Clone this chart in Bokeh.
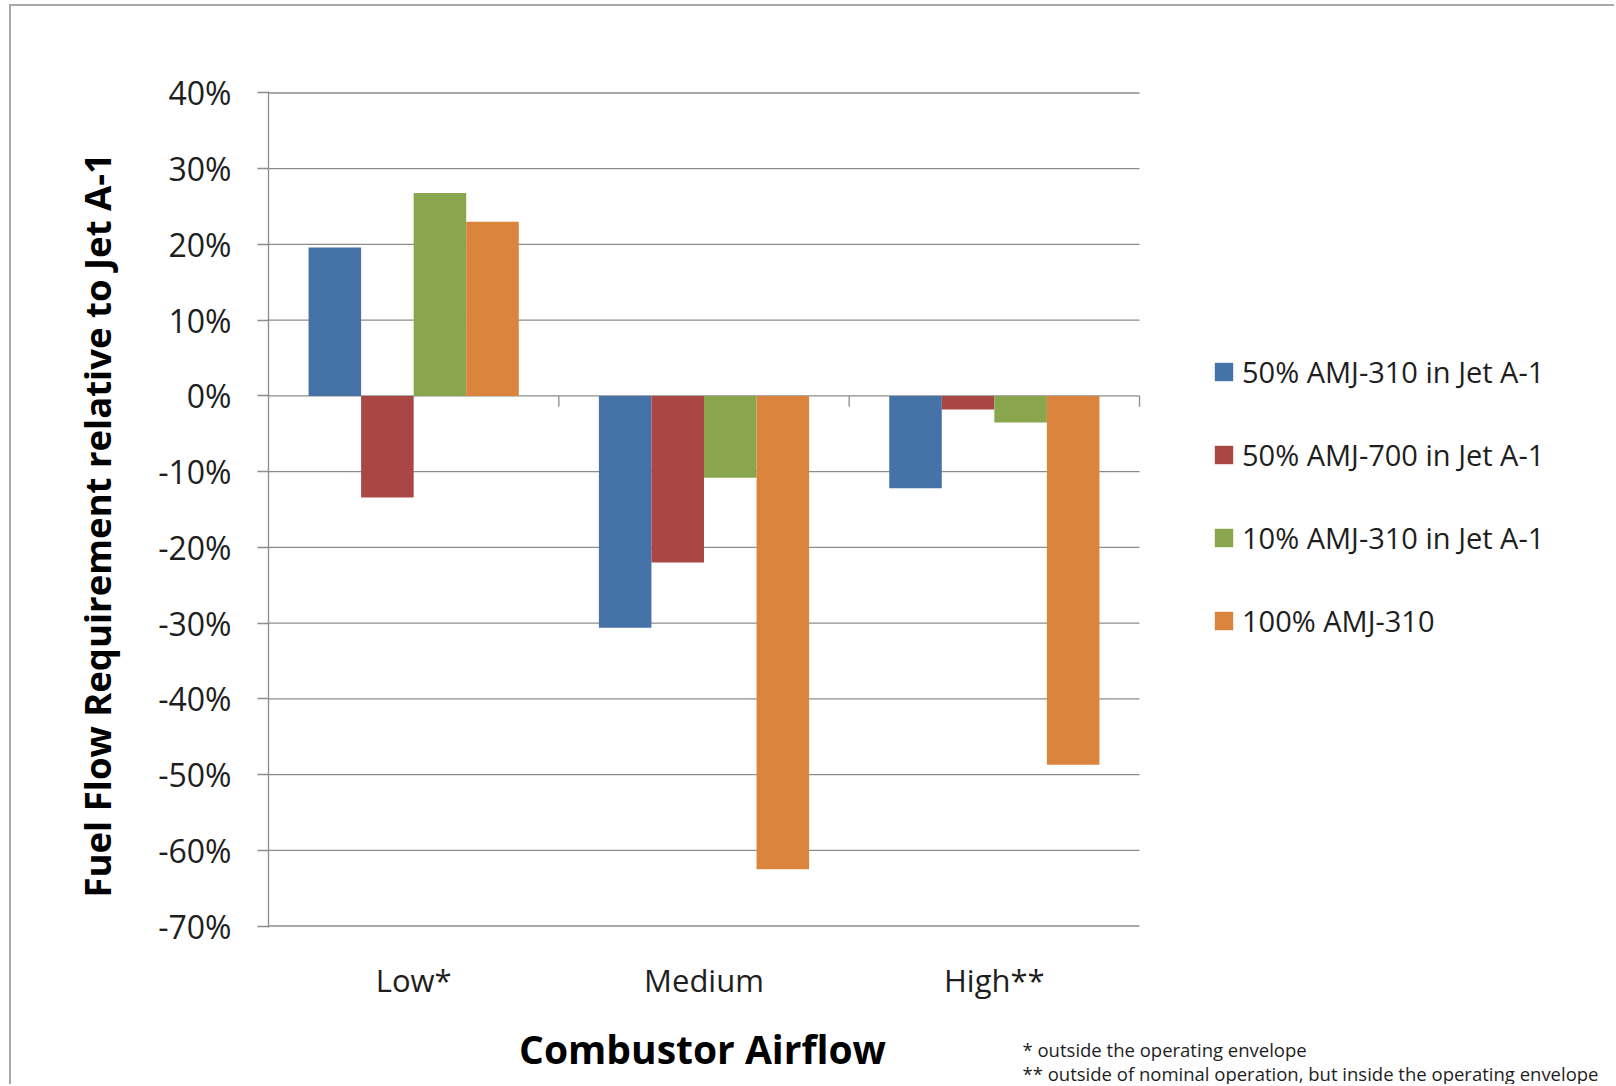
from bokeh.embed import file_html
from bokeh.models import (ColumnDataSource, FixedTicker, Label, Legend, LegendItem,
                          NumeralTickFormatter, Range1d, Title)
from bokeh.plotting import figure
from bokeh.resources import INLINE
from bokeh.transform import dodge

# ---- data -------------------------------------------------------------
categories = ["Low*", "Medium", "High**"]
series_labels = [
    "50% AMJ-310 in Jet A-1",
    "50% AMJ-700 in Jet A-1",
    "10% AMJ-310 in Jet A-1",
    "100% AMJ-310",
]
blend_50_amj310 = [0.196, -0.306, -0.122]
blend_50_amj700 = [-0.134, -0.220, -0.018]
blend_10_amj310 = [0.268, -0.108, -0.035]
neat_amj310 = [0.230, -0.625, -0.487]
y_tick_values = [-0.7, -0.6, -0.5, -0.4, -0.3, -0.2, -0.1, 0.0, 0.1, 0.2, 0.3, 0.4]
x_title = "Combustor Airflow"
y_title = "Fuel Flow Requirement relative to Jet A-1"
footnotes = [
    "* outside the operating envelope",
    "** outside of nominal operation, but inside the operating envelope",
]

# ---- styling ----------------------------------------------------------
FONT = "Open Sans"
TEXT = "#1e1e1e"
GRID = "#8c8c8c"
COLORS = ["#4572A7", "#AA4643", "#89A54E", "#DB843D"]

W, H = 1605, 1080            # canvas size (page minus outer margin/border)
LEFT, RIGHT, TOP, BOTTOM = 257, 1128, 85, 921   # edges of the category area on the canvas
BAR_W = 0.181
OFFSETS = [-1.5 * BAR_W, -0.5 * BAR_W, 0.5 * BAR_W, 1.5 * BAR_W]
TICK_PX = 11

n_cat = len(categories)
x_centers = [i + 0.5 for i in range(n_cat)]
x_bounds = [i + 1.0 for i in range(n_cat)]
# the frame runs to the right edge so the legend can sit inside it
x_end = n_cat * (W - LEFT) / (RIGHT - LEFT)

y_lo, y_hi = y_tick_values[0], y_tick_values[-1]
per_px = (y_hi - y_lo) / (BOTTOM - TOP)
pad = 1.5 * per_px           # keeps the end gridlines inside the frame

src = ColumnDataSource(dict(
    xc=x_centers,
    s0=blend_50_amj310,
    s1=blend_50_amj700,
    s2=blend_10_amj310,
    s3=neat_amj310,
))

p = figure(
    x_range=Range1d(0, x_end),
    y_range=Range1d(y_lo - pad, y_hi + pad),
    width=W, height=H,
    output_backend="svg",
    toolbar_location=None,
    min_border_left=LEFT,
    min_border_right=0,
    min_border_top=TOP,
    min_border_bottom=H - BOTTOM,
)
p.title.visible = False
p.outline_line_color = None
p.background_fill_color = "white"
p.border_fill_color = "white"
p.styles = {
    "margin-left": "9px",
    "margin-top": "4px",
    "border-left": "2px solid #a9a9a9",
    "border-top": "2px solid #a9a9a9",
}
p.grid.grid_line_color = None

# y axis
p.yaxis.ticker = FixedTicker(ticks=y_tick_values)
p.yaxis.formatter = NumeralTickFormatter(format="0%")
p.yaxis.major_label_text_font = FONT
p.yaxis.major_label_text_font_size = "32px"
p.yaxis.major_label_text_color = TEXT
p.yaxis.major_label_standoff = 26
p.yaxis.major_tick_out = TICK_PX
p.yaxis.major_tick_in = 0
p.yaxis.minor_tick_line_color = None
p.yaxis.axis_line_color = GRID
p.yaxis.axis_line_width = 1.3
p.yaxis.major_tick_line_color = GRID
p.yaxis.major_tick_line_width = 1.3

# x axis: category names at the bottom, no line or ticks there
p.xaxis.ticker = FixedTicker(ticks=x_centers)
p.xaxis.major_label_overrides = {c: name for c, name in zip(x_centers, categories)}
p.xaxis.axis_line_color = None
p.xaxis.major_tick_line_color = None
p.xaxis.minor_tick_line_color = None
p.xaxis.major_label_text_font = FONT
p.xaxis.major_label_text_font_size = "31px"
p.xaxis.major_label_text_color = TEXT
p.xaxis.major_label_standoff = 25

# rotated y title, left of the tick labels
p.add_layout(Title(text=y_title, align="left", offset=30, standoff=68,
                   text_font=FONT, text_font_size="36.5px", text_font_style="bold",
                   text_color="#000000"), "left")

# horizontal gridlines over the category area (the 0% line doubles as the axis)
grid_src = ColumnDataSource(dict(y=y_tick_values, x0=[0.0] * len(y_tick_values),
                                 x1=[float(n_cat)] * len(y_tick_values)))
p.segment(x0="x0", x1="x1", y0="y", y1="y", source=grid_src,
          line_color=GRID, line_width=1.3)

# category boundary ticks below the 0% line
bounds = ColumnDataSource(dict(x=x_bounds, y0=[0.0] * n_cat, y1=[-TICK_PX * per_px] * n_cat))
p.segment(x0="x", x1="x", y0="y0", y1="y1", source=bounds, line_color=GRID, line_width=1.3)

# bars
items = []
for i, (label, color, off) in enumerate(zip(series_labels, COLORS, OFFSETS)):
    r = p.vbar(x=dodge("xc", off), top=f"s{i}", bottom=0,
               width=BAR_W, source=src, fill_color=color, line_color=None)
    items.append(LegendItem(label=label, renderers=[r]))

legend = Legend(
    items=items,
    location=(944, 287),
    orientation="vertical",
    glyph_width=23, glyph_height=23,
    label_height=40,
    label_standoff=7,
    spacing=43,
    padding=10,
    margin=0,
    border_line_color=None,
    background_fill_alpha=0,
    label_text_font=FONT,
    label_text_font_size="29px",
    label_text_color=TEXT,
)
p.add_layout(legend)

# x title, centred under the three categories (side panel, so it is not clipped)
p.add_layout(Label(
    x=434, y=-957, x_units="screen", y_units="screen",
    text=x_title, text_align="center", text_baseline="middle",
    text_font=FONT, text_font_size="39px", text_font_style="bold",
    text_color="#000000",
), "above")

# footnotes, lower right, stacked under the category labels
note_y = [-20.6, -20.4]
for text, y in zip(footnotes, note_y):
    p.add_layout(Label(
        x=754, y=y, x_units="screen", y_units="screen",
        text=text, text_align="left", text_baseline="middle",
        text_font=FONT, text_font_size="18.5px", text_color=TEXT,
    ), "below")

open("out.html", "w").write(file_html(p, INLINE))
